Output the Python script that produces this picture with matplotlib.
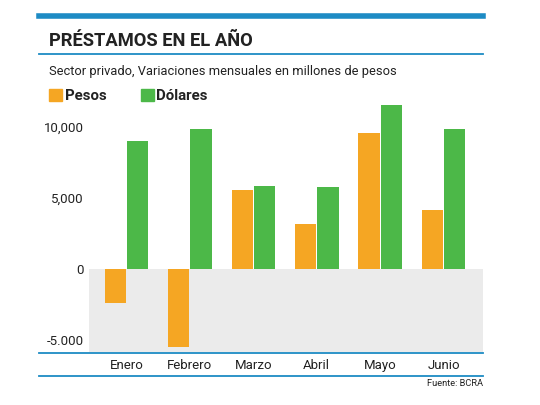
import matplotlib
matplotlib.use("Agg")
import matplotlib.pyplot as plt
from matplotlib.lines import Line2D
import numpy as np

plt.rcParams['font.family'] = ['Roboto', 'DejaVu Sans']

# Datos (millones de pesos)
meses = ['Enero', 'Febrero', 'Marzo', 'Abril', 'Mayo', 'Junio']
pesos = [-2450, -5550, 5500, 3100, 9550, 4100]
dolares = [9000, 9850, 5800, 5750, 11500, 9850]
yticks = [-5000, 0, 5000, 10000]
ytick_labels = ['-5.000', '0', '5,000', '10,000']

naranja = '#f5a623'
verde = '#4cb848'
azul = '#1d8bc4'
gris = '#ebebeb'
texto = '#222222'

W, H = 540, 405
fig = plt.figure(figsize=(5.4, 4.05), dpi=100)

def fx(px):
    return px / W

def fy(py):
    return 1 - py / H

ymin, ymax = -5880, 11600
ax = fig.add_axes([fx(89), fy(352), fx(483) - fx(89), fy(103.8) - fy(352)])
ax.patch.set_alpha(0)
ax.axhspan(ymin, 0, color=gris, zorder=0, lw=0)

x = np.arange(len(meses))
w = 0.335
ax.bar(x - w / 2 - 0.008, pesos, w, color=naranja, zorder=2)
ax.bar(x + w / 2 + 0.008, dolares, w, color=verde, zorder=2)

ax.set_xlim(-0.59, 5.62)
ax.set_ylim(ymin, ymax)
ax.set_yticks(yticks)
ax.set_yticklabels(ytick_labels)
ax.set_xticks(x)
ax.set_xticklabels(meses)
for s in ax.spines.values():
    s.set_visible(False)
ax.tick_params(axis='y', length=0, pad=4, labelsize=9.5, labelcolor=texto)
ax.tick_params(axis='x', length=0, pad=5, labelsize=9.5, labelcolor=texto)

# líneas azules
fig.add_artist(Line2D([fx(39), fx(483)], [fy(16), fy(16)], color=azul, lw=4))
fig.add_artist(Line2D([fx(39), fx(483)], [fy(53.5), fy(53.5)], color=azul, lw=1.3))
fig.add_artist(Line2D([fx(39), fx(483)], [fy(352.7), fy(352.7)], color=azul, lw=1.3))
fig.add_artist(Line2D([fx(39), fx(483)], [fy(376), fy(376)], color=azul, lw=1.3))

fig.text(fx(49), fy(41), 'PRÉSTAMOS EN EL AÑO', fontsize=13.2, fontweight='bold',
         color=texto, va='center', ha='left')
fig.text(fx(49), fy(72), 'Sector privado, Variaciones mensuales en millones de pesos',
         fontsize=9.3, color=texto, va='center', ha='left')

# leyenda
fig.patches.append(plt.Rectangle((fx(49), fy(101)), fx(13), fx(12) * W / H,
                                 color=naranja, transform=fig.transFigure))
fig.text(fx(65), fy(95.5), 'Pesos', fontsize=10.8, fontweight='bold', color=texto,
         va='center', ha='left')
fig.patches.append(plt.Rectangle((fx(141), fy(101)), fx(13), fx(12) * W / H,
                                 color=verde, transform=fig.transFigure))
fig.text(fx(156), fy(95.5), 'Dólares', fontsize=10.8, fontweight='bold', color=texto,
         va='center', ha='left')

fig.text(fx(483), fy(384), 'Fuente: BCRA', fontsize=6.7, color=texto, va='center', ha='right')

fig.savefig('out.png', dpi=100, facecolor='white')
